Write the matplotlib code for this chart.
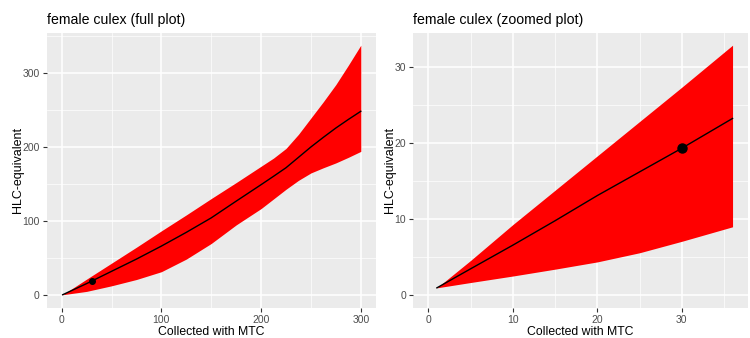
import numpy as np
import matplotlib.pyplot as plt

plt.rcParams['font.family'] = ['Liberation Sans', 'DejaVu Sans']

# full plot (MTC -> HLC-equivalent)
full_x = [1, 25, 50, 75, 100, 125, 150, 175, 200, 212.5, 225, 237.5,
          250, 262.5, 275, 287.5, 300]
full_mean = [1, 16, 32.5, 49, 66.5, 85, 104.5, 127, 149.2, 160.5, 172, 186,
             200, 213, 225.5, 237, 248]
full_upper = [1, 22, 43.5, 65, 87, 108.5, 130.5, 152, 174, 185, 198, 217,
              239, 261, 284, 310, 337]
full_lower = [1, 5.5, 13, 21.5, 32, 49, 70, 95, 117, 130, 143, 155,
              165, 172, 178.5, 186, 194]
full_ticks_x = [0, 100, 200, 300]
full_ticks_y = [0, 100, 200, 300]

# zoomed plot
zoom_x = [1, 5, 10, 15, 20, 25, 30, 36]
zoom_mean = [1, 3.5, 6.6, 9.8, 13.1, 16.2, 19.3, 23.2]
zoom_upper = [1, 4.6, 9.3, 13.8, 18.3, 22.8, 27.3, 32.8]
zoom_lower = [1, 1.7, 2.55, 3.45, 4.4, 5.6, 7.1, 9.0]
zoom_ticks_x = [0, 10, 20, 30]
zoom_ticks_y = [0, 10, 20, 30]

obs_x = 30
obs_y = 19.3


def gg_panel(ax, x, mean, lower, upper, xticks, yticks, title, msize, ylab_x):
    ax.set_facecolor('#EBEBEB')
    for s in ax.spines.values():
        s.set_visible(False)
    # ggplot style expansion, range includes 0
    xmax, ymax = max(x), max(upper)
    ax.set_xlim(-0.05 * xmax, 1.05 * xmax)
    ax.set_ylim(-0.05 * ymax, 1.05 * ymax)
    ax.set_xticks(xticks)
    ax.set_yticks(yticks)
    dx = xticks[1] - xticks[0]
    dy = yticks[1] - yticks[0]
    ax.set_xticks(np.arange(dx / 2, 1.05 * xmax, dx), minor=True)
    ax.set_yticks(np.arange(dy / 2, 1.05 * ymax, dy), minor=True)
    ax.grid(which='major', color='white', lw=1.1)
    ax.grid(which='minor', color='white', lw=0.5)
    ax.set_axisbelow(True)
    ax.tick_params(which='major', length=3, width=0.8, color='#333333',
                   labelcolor='#4D4D4D', labelsize=7.5, pad=2)
    ax.tick_params(which='minor', length=0)

    ax.fill_between(x, lower, upper, color='#FF0000', lw=0, zorder=2)
    ax.plot(x, mean, color='black', lw=1, zorder=3)
    ax.plot([obs_x], [obs_y], 'o', color='black', ms=msize, zorder=4)

    ax.set_title(title, loc='left', fontsize=10.2, pad=6)
    ax.set_xlabel('Collected with MTC', fontsize=8.8)
    ax.set_ylabel('HLC-equivalent', fontsize=9)
    ax.xaxis.set_label_coords(0.5, -0.065)
    ax.yaxis.set_label_coords(ylab_x, 0.5)


fig = plt.figure(figsize=(7.5, 3.38), dpi=100)
ax1 = fig.add_axes([0.0623, 0.0888, 0.4387, 0.8145])
ax2 = fig.add_axes([0.551, 0.0888, 0.446, 0.8145])

gg_panel(ax1, full_x, full_mean, full_lower, full_upper,
         full_ticks_x, full_ticks_y, 'female culex (full plot)', 4, -0.07)
gg_panel(ax2, zoom_x, zoom_mean, zoom_lower, zoom_upper,
         zoom_ticks_x, zoom_ticks_y, 'female culex (zoomed plot)', 6.5, -0.053)

fig.savefig('out.png', dpi=100)
